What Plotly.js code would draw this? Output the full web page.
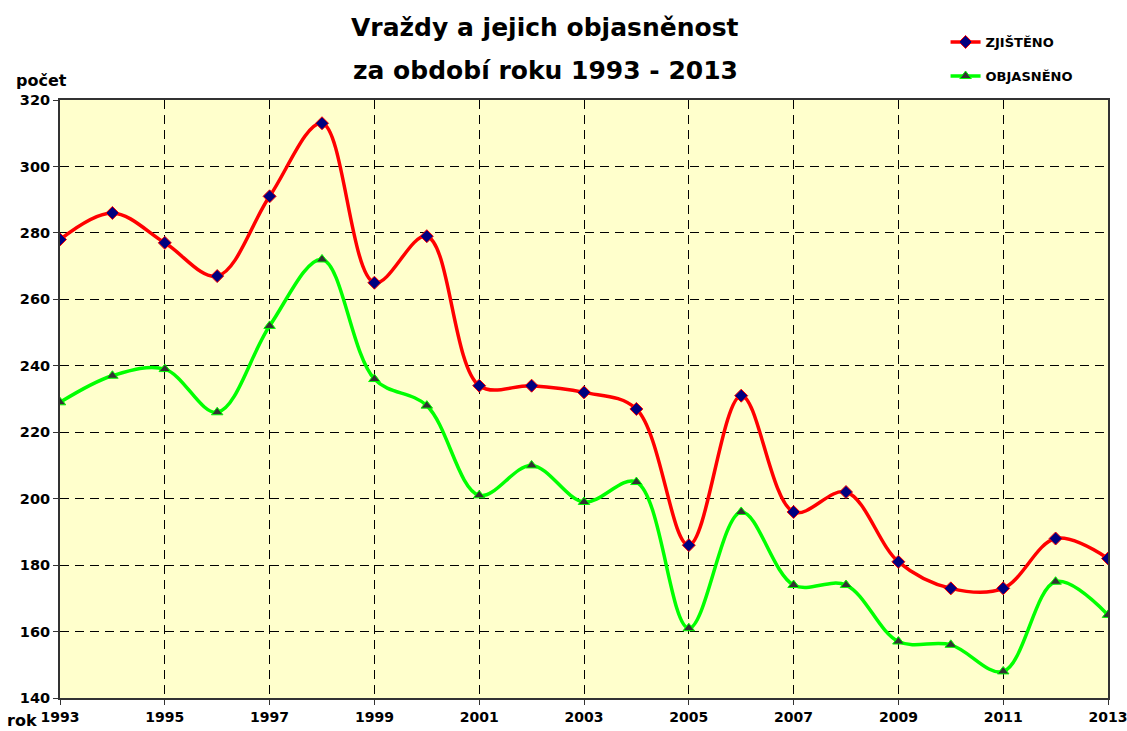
<!DOCTYPE html>
<html>
<head>
<meta charset="utf-8">
<script src="https://cdn.plot.ly/plotly-3.0.1.min.js"></script>
<style>html,body{margin:0;padding:0;background:#fff;}#chart{width:1127px;height:731px;}</style>
</head>
<body>
<div id="chart"></div>
<script>
const years = [1993,1994,1995,1996,1997,1998,1999,2000,2001,2002,2003,2004,2005,2006,2007,2008,2009,2010,2011,2012,2013];
const zjisteno = [278,286,277,267,291,313,265,279,234,234,232,227,186,231,196,202,181,173,173,188,182];
const objasneno = [229,237,239,226,252,272,236,228,201,210,199,205,161,196,174,174,157,156,148,175,165];
const xTickVals = [1993,1995,1997,1999,2001,2003,2005,2007,2009,2011,2013];
const yTickVals = [140,160,180,200,220,240,260,280,300,320];
const seriesNames = ['ZJIŠTĚNO','OBJASNĚNO'];
const titleLines = ['Vraždy a jejich objasněnost','za období roku 1993 - 2013'];

const F = '"DejaVu Sans", "Liberation Sans", Arial, sans-serif';

const traces = [
  {x: years, y: zjisteno, name: seriesNames[0], type: 'scatter', mode: 'lines+markers',
   line: {color: '#FF0000', width: 3.5, shape: 'spline', smoothing: 1},
   marker: {symbol: 'diamond', size: 10, color: '#000080', line: {color: '#FF0000', width: 1}},
   legend: 'legend'},
  {x: years, y: objasneno, name: seriesNames[1], type: 'scatter', mode: 'lines+markers',
   line: {color: '#00FF00', width: 3.5, shape: 'spline', smoothing: 1},
   marker: {symbol: 'triangle-up', size: 10, color: '#333333', line: {color: '#00FF00', width: 1}},
   legend: 'legend2'}
];

const layout = {
  width: 1127, height: 731,
  margin: {l: 60, r: 19, t: 100, b: 33},
  paper_bgcolor: '#FFFFFF',
  plot_bgcolor: '#FFFFCC',
  showlegend: true,
  font: {family: F, color: '#000'},
  xaxis: {
    range: [1993, 2013], tickvals: xTickVals, ticktext: xTickVals.map(String),
    tickfont: {family: F, size: 14, weight: 'bold'}, ticklabeloverflow: 'allow',
    showgrid: true, gridcolor: '#000000', gridwidth: 1, griddash: '9px,6px',
    showline: true, linecolor: '#333333', linewidth: 2, mirror: true,
    ticks: 'outside', ticklen: 5, tickcolor: '#333333', zeroline: false
  },
  yaxis: {
    range: [140, 320], tickvals: yTickVals,
    tickfont: {family: F, size: 14.5, weight: 'bold'},
    showgrid: true, gridcolor: '#000000', gridwidth: 1, griddash: '9px,6px',
    showline: true, linecolor: '#333333', linewidth: 2, mirror: true,
    ticks: 'outside', ticklen: 5, tickcolor: '#333333', zeroline: false
  },
  legend: {x: 0.845, y: 1.097, xanchor: 'left', yanchor: 'middle', bgcolor: 'rgba(0,0,0,0)',
           font: {family: F, size: 13, weight: 'bold'}, itemwidth: 30},
  legend2: {x: 0.845, y: 1.040, xanchor: 'left', yanchor: 'middle', bgcolor: 'rgba(0,0,0,0)',
           font: {family: F, size: 13, weight: 'bold'}, itemwidth: 30},
  annotations: [
    {text: titleLines[0], xref: 'paper', yref: 'paper', x: 0.463, y: 1.122, xanchor: 'center', yanchor: 'middle',
     showarrow: false, font: {family: F, size: 25, weight: 'bold'}},
    {text: titleLines[1], xref: 'paper', yref: 'paper', x: 0.463, y: 1.050, xanchor: 'center', yanchor: 'middle',
     showarrow: false, font: {family: F, size: 25, weight: 'bold'}},
    {text: 'počet', xref: 'paper', yref: 'paper', x: -0.018, y: 1.033, xanchor: 'center', yanchor: 'middle',
     showarrow: false, font: {family: F, size: 16, weight: 'bold'}},
    {text: 'rok', xref: 'paper', yref: 'paper', x: -0.036, y: -0.037, xanchor: 'center', yanchor: 'middle',
     showarrow: false, font: {family: F, size: 16, weight: 'bold'}}
  ]
};

Plotly.newPlot('chart', traces, layout, {displayModeBar: false, staticPlot: true});
</script>
</body>
</html>
